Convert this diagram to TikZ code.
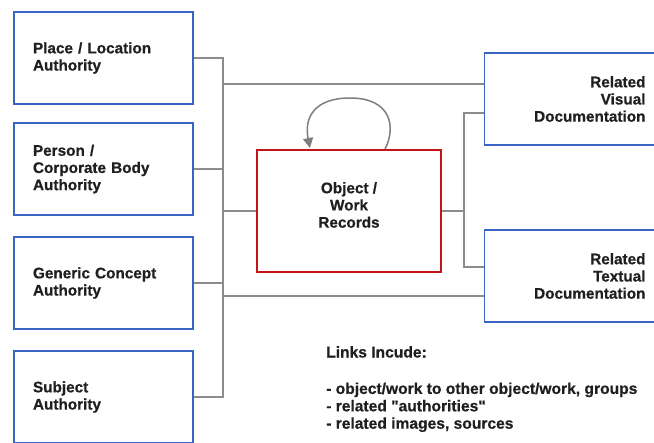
\documentclass[tikz,border=0pt]{standalone}
\usepackage{fontspec}
\setmainfont{Liberation Sans}[Ligatures=TeXOff,BoldFeatures={FakeBold=0.6}]
\usetikzlibrary{arrows.meta}
\definecolor{authblue}{RGB}{58,100,196}
\definecolor{recred}{RGB}{196,20,24}
\definecolor{linkgray}{RGB}{140,140,140}
\begin{document}
\begin{tikzpicture}[x=1pt,y=-1pt,
	every node/.style={font=\bfseries\fontsize{15.3}{17.2}\selectfont,text=black!88},
	authbox/.style={draw=authblue,line width=1.8pt,minimum width=179pt,minimum height=92pt,text width=141pt,align=left,inner sep=0pt},
	docbox/.style={draw=authblue,line width=1.8pt,minimum width=174pt,minimum height=92pt,text width=148pt,align=right,inner sep=0pt},
	recbox/.style={draw=recred,line width=1.8pt,minimum width=184pt,minimum height=122pt,align=center,inner sep=0pt},
	link/.style={draw=linkgray,line width=1.8pt}]
	\useasboundingbox (0,0) rectangle (654,443);
	\fill[white] (0,0) rectangle (654,443);
	% authorities on the left
	\node[authbox] (place) at (103.5,58) {Place / Location\\Authority};
	\node[authbox] (person) at (103.5,169) {Person /\\Corporate Body\\Authority};
	\node[authbox] (concept) at (103.5,283) {Generic Concept\\Authority};
	\node[authbox] (subject) at (103.5,397) {Subject\\Authority};
	% the records and the documentation
	\node[recbox] (records) at (349,211) {Object /\\Work\\Records\\[-5pt]};
	\node[docbox,xshift=-1.5pt] (visual) at (573,99) {Related\\Visual\\Documentation};
	\node[docbox,xshift=-1.5pt] (textual) at (573,276) {Related\\Textual\\Documentation};
	% left bus
	\coordinate (lbus) at (223,0);
	\coordinate (topline) at (223,84);
	\coordinate (botline) at (223,296);
	\draw[link] (place.east) -| (lbus |- subject.east) -- (subject.east);
	\draw[link] (person.east) -- (lbus |- person.east);
	\draw[link] (concept.east) -- (lbus |- concept.east);
	\draw[link] (lbus |- records.west) -- (records.west);
	\draw[link] (topline) -- (topline -| visual.west);
	\draw[link] (botline) -- (botline -| textual.west);
	% right bus
	\coordinate (rbtop) at (464,113);
	\coordinate (rbbot) at (464,267);
	\draw[link] (visual.west |- rbtop) -- (rbtop) -- (rbbot) -- (textual.west |- rbbot);
	\draw[link] (records.east) -- (records.east -| rbtop);
	% self link
	\draw[linkgray!90!black,line width=1.5pt,-{Triangle[length=10pt,width=10pt]}] (records.north -| 385,0) .. controls (396,128) and (392,98) .. (350,98) .. controls (314,98) and (304,118) .. (310,148);
	% notes
	\node[anchor=north west,align=left,inner sep=0pt,font=\bfseries\fontsize{15.6}{17.4}\selectfont] (links) at (326,346) {Links Incude:\\[19pt]- object/work to other object/work, groups\\- related "authorities"\\- related images, sources};
\end{tikzpicture}
\end{document}
